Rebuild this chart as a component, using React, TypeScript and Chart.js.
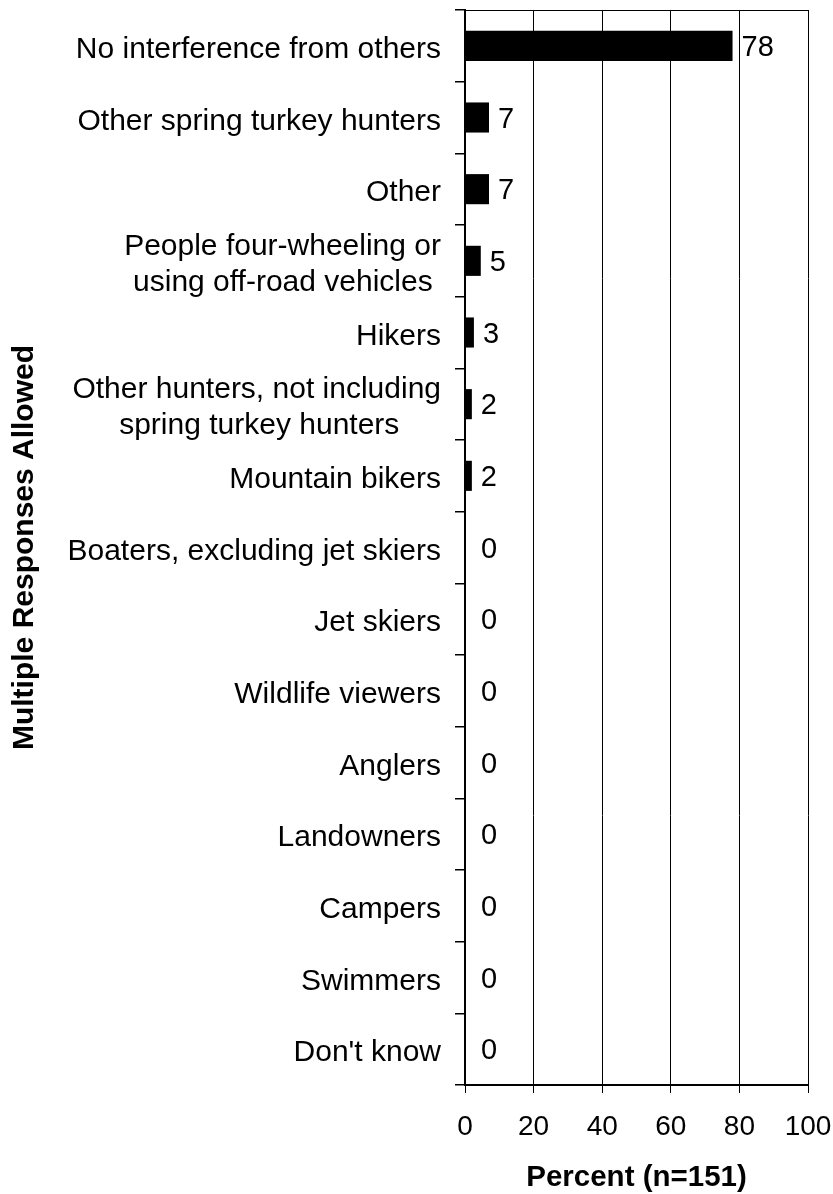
import React, { useEffect, useRef } from "react";
import { Chart, registerables } from "chart.js";

Chart.register(...registerables);

const categories: (string | string[])[] = [
  "No interference from others",
  "Other spring turkey hunters",
  "Other",
  ["People four-wheeling or", "using off-road vehicles "],
  "Hikers",
  ["Other hunters, not including", "spring turkey hunters     "],
  "Mountain bikers",
  "Boaters, excluding jet skiers",
  "Jet skiers",
  "Wildlife viewers",
  "Anglers",
  "Landowners",
  "Campers",
  "Swimmers",
  "Don't know",
];

const values: number[] = [78, 7, 7, 4.6, 2.6, 2, 2, 0, 0, 0, 0, 0, 0, 0, 0];

const xTicks: number[] = [0, 20, 40, 60, 80, 100];

const xTitle = "Percent (n=151)";
const yTitle = "Multiple Responses Allowed";

const FONT = "'Liberation Sans', Arial, Helvetica, sans-serif";

const valueLabelPlugin = {
  id: "valueLabels",
  afterDatasetsDraw(chart: any) {
    const ctx = chart.ctx;
    const meta = chart.getDatasetMeta(0);
    const xScale = chart.scales.x;
    ctx.save();
    ctx.font = `29px ${FONT}`;
    ctx.fillStyle = "#000";
    ctx.textAlign = "left";
    ctx.textBaseline = "middle";
    meta.data.forEach((bar: any, i: number) => {
      const v = values[i];
      const x = xScale.getPixelForValue(v) + (v === 0 ? 16 : 9);
      ctx.fillText(String(Math.round(v)), x, bar.y + 2);
    });
    ctx.restore();
  },
};

export default function App() {
  const ref = useRef<HTMLCanvasElement | null>(null);

  useEffect(() => {
    document.body.style.margin = "0";
    const canvas = ref.current;
    if (!canvas) return;
    const chart = new Chart(canvas, {
      type: "bar",
      data: {
        labels: categories,
        datasets: [
          {
            data: values,
            backgroundColor: "#000",
            borderWidth: 0,
            barPercentage: 0.42,
            categoryPercentage: 1,
          },
        ],
      },
      options: {
        indexAxis: "y",
        responsive: false,
        animation: false,
        layout: { padding: { top: 10, right: 25, left: 0, bottom: 0 } },
        plugins: {
          legend: { display: false },
          tooltip: { enabled: false },
        },
        scales: {
          x: {
            type: "linear",
            position: "bottom",
            min: 0,
            max: 100,
            afterBuildTicks: (scale: any) => {
              scale.ticks = xTicks.map((v) => ({ value: v }));
            },
            afterFit: (scale: any) => {
              scale.height = 109;
              scale.paddingLeft = 0;
              scale.paddingRight = 0;
            },
            grid: {
              display: true,
              drawOnChartArea: true,
              drawTicks: true,
              tickLength: 8,
              color: "#000",
              lineWidth: 1,
            },
            border: { display: true, color: "#000", width: 2 },
            ticks: {
              color: "#000",
              font: { family: FONT, size: 28 },
              padding: 17,
              maxRotation: 0,
            },
            title: {
              display: true,
              text: xTitle,
              color: "#000",
              font: { family: FONT, size: 29.5, weight: "bold" },
              padding: { top: 4, bottom: -2 },
            },
          },
          x2: {
            type: "linear",
            position: "top",
            min: 0,
            max: 100,
            ticks: { display: false },
            grid: { display: false, drawTicks: false },
            border: { display: true, color: "#000", width: 1 },
            afterFit: (scale: any) => {
              scale.height = 0;
              scale.paddingLeft = 0;
              scale.paddingRight = 0;
            },
          },
          y: {
            type: "category",
            position: "left",
            afterFit: (scale: any) => {
              scale.width = 465;
              scale.paddingTop = 0;
              scale.paddingBottom = 0;
            },
            grid: {
              display: true,
              offset: true,
              drawOnChartArea: false,
              drawTicks: true,
              tickLength: 10,
              color: "#000",
              lineWidth: 1.5,
            },
            border: { display: true, color: "#000", width: 2 },
            ticks: {
              color: "#000",
              font: { family: FONT, size: 30, lineHeight: 1.2 },
              padding: 14,
              labelOffset: 4,
              autoSkip: false,
            },
            title: {
              display: true,
              text: yTitle,
              color: "#000",
              font: { family: FONT, size: 30, weight: "bold" },
              padding: { top: 7, bottom: 0 },
            },
          },
        },
      },
      plugins: [valueLabelPlugin],
    } as any);
    return () => chart.destroy();
  }, []);

  return (
    <div style={{ width: 833, height: 1194 }}>
      <canvas ref={ref} width={833} height={1194} />
    </div>
  );
}
